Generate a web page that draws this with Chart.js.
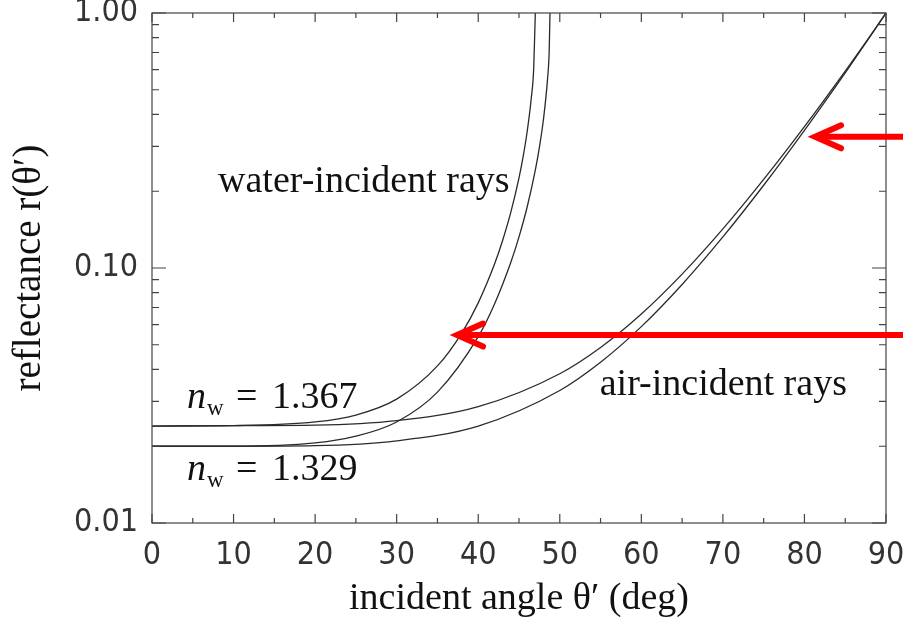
<!DOCTYPE html>
<html>
<head>
<meta charset="utf-8">
<script src="https://cdn.jsdelivr.net/npm/chart.js@4.4.0/dist/chart.umd.min.js"></script>
<style>
html, body { margin: 0; padding: 0; background: #fff; }
#wrap { width: 903px; height: 631px; }
</style>
</head>
<body>
<div id="wrap"><canvas id="chart"></canvas></div>
<script>
// incident angle (deg) and reflectance
const airAngle = [0, 10, 20, 30, 40, 50, 55, 60, 65, 70, 75, 80, 85, 88, 90];
const airLow = [0.0200, 0.0200, 0.0201, 0.0210, 0.0240, 0.0331, 0.0427, 0.0589, 0.0862, 0.1324, 0.2111, 0.3466, 0.5824, 0.8035, 1.0];   // n_w = 1.329
const airHigh = [0.0240, 0.0241, 0.0242, 0.0252, 0.0286, 0.0385, 0.0488, 0.0660, 0.0946, 0.1423, 0.2225, 0.3584, 0.5917, 0.8083, 1.0];  // n_w = 1.367

const waterLowAngle = [0, 10, 20, 25, 30, 35, 40, 42, 44, 45, 46, 47, 47.5, 48, 48.5, 48.7, 48.8];
const waterLow = [0.0200, 0.0200, 0.0206, 0.0219, 0.0249, 0.0326, 0.0538, 0.0723, 0.1053, 0.1325, 0.1735, 0.2419, 0.2973, 0.3830, 0.5515, 0.7050, 1.0];
const waterHighAngle = [0, 10, 20, 25, 30, 35, 38, 40, 42, 43, 44, 45, 45.5, 46, 46.5, 46.8, 47.0];
const waterHigh = [0.0240, 0.0241, 0.0249, 0.0265, 0.0306, 0.0413, 0.0557, 0.0730, 0.1036, 0.1285, 0.1655, 0.2257, 0.2726, 0.3422, 0.4619, 0.6043, 1.0];

const yTicks = [0.01, 0.1, 1];

const serif = '"Liberation Serif", "Times New Roman", serif';
const sans = '"DejaVu Sans Condensed", "Liberation Sans Narrow", "Liberation Sans", sans-serif';

function pts(xs, ys) {
    return xs.map((x, i) => ({ x: x, y: ys[i] }));
}

function curve(xs, ys) {
    return {
        data: pts(xs, ys),
        borderColor: "#2a2a2a",
        borderWidth: 1.3,
        pointRadius: 0,
        cubicInterpolationMode: "monotone",
        fill: false
    };
}

/* frame with inward ticks, text notes and red arrows */
const decorations = {
    id: "decorations",
    afterDatasetsDraw(chart) {
        const { ctx, chartArea: a, scales: { x, y } } = chart;
        ctx.save();
        ctx.strokeStyle = "#444";
        ctx.lineWidth = 1.2;
        ctx.strokeRect(a.left, a.top, a.right - a.left, a.bottom - a.top);

        ctx.beginPath();
        for (let v = 0; v <= 90; v += 5) {
            let px = x.getPixelForValue(v);
            let len = v % 10 === 0 ? 9 : 5;
            ctx.moveTo(px, a.bottom); ctx.lineTo(px, a.bottom - len);
            ctx.moveTo(px, a.top); ctx.lineTo(px, a.top + len);
        }
        [0.01, 0.1].forEach(d => {
            for (let m = 1; m <= 10; m++) {
                let py = y.getPixelForValue(d * m);
                let len = (m === 1 || m === 10) ? 14 : 7;
                ctx.moveTo(a.left, py); ctx.lineTo(a.left + len, py);
                ctx.moveTo(a.right, py); ctx.lineTo(a.right - len, py);
            }
        });
        ctx.stroke();
        ctx.restore();
    },
    afterDraw(chart) {
        const { ctx, scales: { x, y } } = chart;
        ctx.save();
        ctx.fillStyle = "#111";
        ctx.textBaseline = "alphabetic";
        ctx.textAlign = "left";

        ctx.font = "38px " + serif;
        ctx.fillText("water-incident rays", x.getPixelForValue(8.1), y.getPixelForValue(0.199));
        ctx.fillText("air-incident rays", x.getPixelForValue(54.9), y.getPixelForValue(0.0318));

        [[0.0283, "1.367"], [0.01475, "1.329"]].forEach(([val, txt]) => {
            let px = x.getPixelForValue(4.3), py = y.getPixelForValue(val);
            ctx.font = "italic 38px " + serif;
            ctx.fillText("n", px, py);
            ctx.font = "23px " + serif;
            ctx.fillText("w", px + 20, py + 7);
            ctx.font = "38px " + serif;
            ctx.fillText("=", px + 49, py);
            ctx.fillText(txt, px + 85, py);
        });

        // red arrows, tip placed on the data, tail off the right edge
        ctx.strokeStyle = "#ff0000";
        ctx.lineWidth = 6;
        ctx.lineCap = "round";
        ctx.lineJoin = "miter";
        [[81.3, 0.327], [37.4, 0.0546]].forEach(([ax, ay]) => {
            let px = x.getPixelForValue(ax), py = y.getPixelForValue(ay);
            ctx.beginPath();
            ctx.moveTo(chart.width + 5, py);
            ctx.lineTo(px + 3, py);
            ctx.stroke();
            ctx.beginPath();
            ctx.moveTo(px + 26, py - 11.5);
            ctx.lineTo(px, py);
            ctx.lineTo(px + 26, py + 11.5);
            ctx.stroke();
        });
        ctx.restore();
    }
};

new Chart(document.getElementById("chart"), {
    type: "line",
    data: {
        datasets: [
            curve(waterHighAngle, waterHigh),
            curve(waterLowAngle, waterLow),
            curve(airAngle, airHigh),
            curve(airAngle, airLow)
        ]
    },
    options: {
        responsive: true,
        maintainAspectRatio: false,
        animation: false,
        events: [],
        layout: { padding: { left: 0, right: 17, top: 13, bottom: 0 } },
        plugins: { legend: { display: false }, tooltip: { enabled: false } },
        scales: {
            x: {
                type: "linear",
                min: 0,
                max: 90,
                border: { display: false },
                grid: { display: false, drawTicks: false, tickLength: 0 },
                ticks: {
                    stepSize: 10,
                    autoSkip: false,
                    maxRotation: 0,
                    padding: 13,
                    color: "#333",
                    font: { family: sans, size: 32 }
                },
                title: {
                    display: true,
                    text: "incident angle θ′ (deg)",
                    color: "#111",
                    padding: { top: 0, bottom: 9 },
                    font: { family: serif, size: 38 }
                },
                afterFit(s) { s.height = 108; s.paddingLeft = 0; s.paddingRight = 0; }
            },
            y: {
                type: "logarithmic",
                min: 0.01,
                max: 1,
                border: { display: false },
                grid: { display: false, drawTicks: false, tickLength: 0 },
                afterBuildTicks(s) { s.ticks = yTicks.map(v => ({ value: v })); },
                ticks: {
                    padding: 14,
                    color: "#333",
                    font: { family: sans, size: 32 },
                    callback: v => Number(v).toFixed(2)
                },
                title: {
                    display: true,
                    text: "reflectance r(θ′)",
                    color: "#111",
                    padding: { top: 6, bottom: 0 },
                    font: { family: serif, size: 39 }
                },
                afterFit(s) { s.width = 152; s.paddingTop = 0; s.paddingBottom = 0; }
            }
        }
    },
    plugins: [decorations]
});
</script>
</body>
</html>
